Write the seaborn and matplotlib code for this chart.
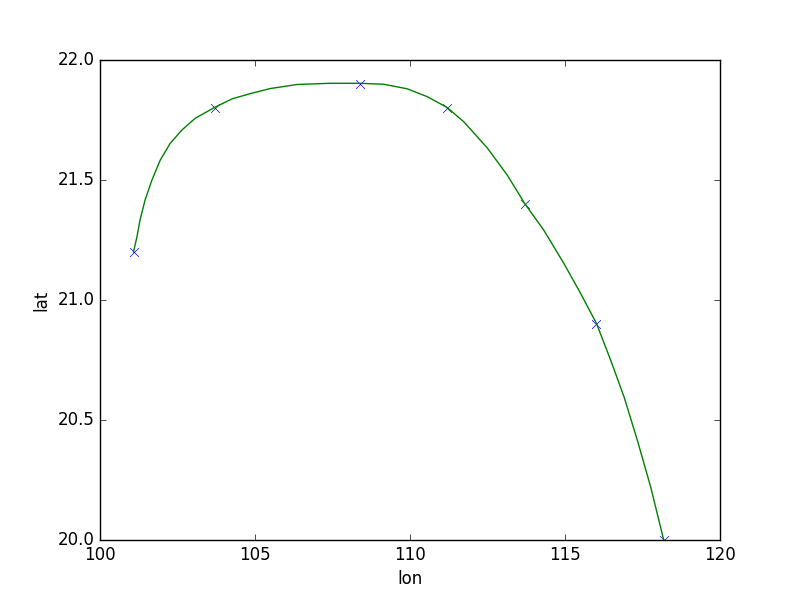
import matplotlib
matplotlib.use("Agg")
import matplotlib.pyplot as plt
import pandas as pd
import seaborn as sns

# observed positions (markers)
lon_pts = [101.1, 103.7, 108.4, 111.2, 113.7, 116.0, 118.2]
lat_pts = [21.2, 21.8, 21.9, 21.8, 21.4, 20.9, 20.0]

# smooth track
lon_curve = [101.08, 101.19, 101.29, 101.45, 101.67, 101.94, 102.26, 102.64, 103.07, 103.69,
             104.26, 104.85, 105.49, 106.36, 107.43, 108.38, 109.15, 109.91, 110.56, 111.20,
             111.74, 112.49, 113.14, 113.70, 114.32, 114.97, 115.51, 116.02, 116.48, 116.91,
             117.34, 117.77, 118.18]
lat_curve = [21.200, 21.262, 21.332, 21.415, 21.498, 21.582, 21.652, 21.708, 21.757, 21.802,
             21.838, 21.860, 21.881, 21.898, 21.903, 21.903, 21.899, 21.880, 21.847, 21.802,
             21.742, 21.634, 21.520, 21.402, 21.290, 21.151, 21.026, 20.901, 20.747, 20.594,
             20.413, 20.218, 20.002]

plt.style.use('classic')  # old matplotlib look
plt.rcParams['figure.facecolor'] = 'white'
plt.rcParams['savefig.facecolor'] = 'white'

df_pts = pd.DataFrame({'lon': lon_pts, 'lat': lat_pts})
df_curve = pd.DataFrame({'lon': lon_curve, 'lat': lat_curve})

fig, ax = plt.subplots(figsize=(8, 6), dpi=100)
fig.subplots_adjust(left=0.125, right=0.9, bottom=0.1, top=0.9)

sns.scatterplot(data=df_pts, x='lon', y='lat', marker='x', color='blue', s=40,
                linewidth=0.5, ax=ax, zorder=1)
sns.lineplot(data=df_curve, x='lon', y='lat', color='green', sort=False,
             estimator=None, linewidth=1, ax=ax, zorder=2)

ax.set_xlim(100, 120)
ax.set_ylim(20, 22)
ax.set_xticks([100, 105, 110, 115, 120])
ax.set_yticks([20.0, 20.5, 21.0, 21.5, 22.0])
ax.set_yticklabels(['20.0', '20.5', '21.0', '21.5', '22.0'])
ax.set_xlabel('lon')
ax.set_ylabel('lat')

fig.savefig('out.png', dpi=100)
